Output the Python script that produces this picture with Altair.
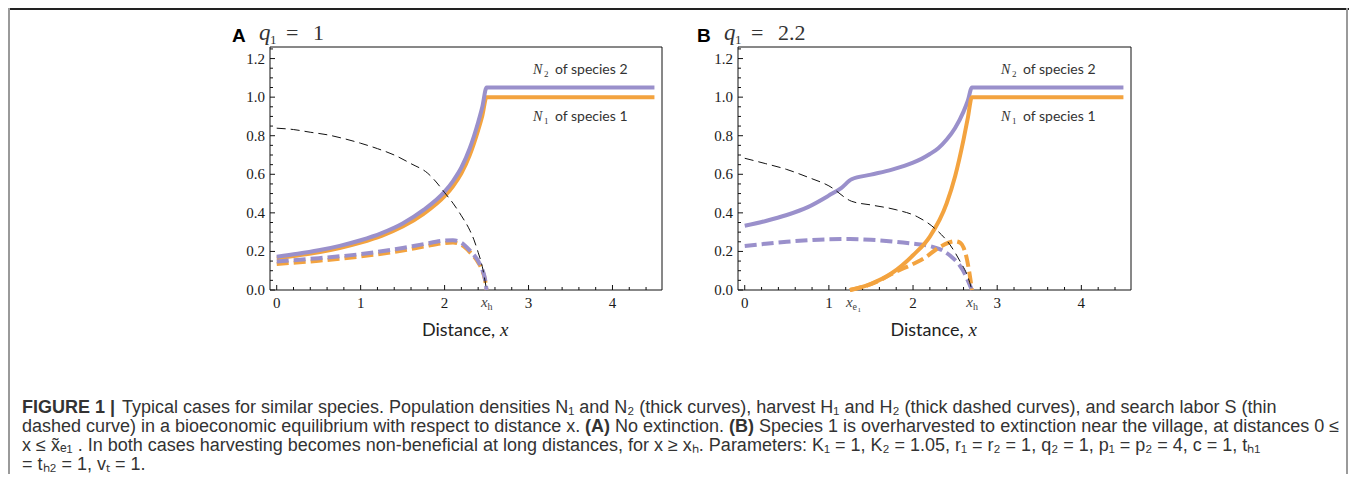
import altair as alt
import pandas as pd

# ---------------- data ----------------
# Panel A  (q1 = 1)
A_N_X = [0, 0.25, 0.5, 0.75, 1.0, 1.25, 1.5, 1.75, 2.0, 2.1, 2.2, 2.3, 2.4, 2.45, 2.5, 4.5]
A_N2_Y = [0.172, 0.1875, 0.206, 0.229, 0.258, 0.295, 0.345, 0.415, 0.51, 0.565, 0.635, 0.735, 0.87, 0.95, 1.05, 1.05]
A_N1_Y = [0.164, 0.179, 0.196, 0.218, 0.246, 0.281, 0.329, 0.395, 0.486, 0.538, 0.605, 0.70, 0.829, 0.905, 1.0, 1.0]
A_H_X = [0, 0.5, 1.0, 1.5, 1.75, 2.0, 2.1, 2.2, 2.3, 2.4, 2.45, 2.48, 2.5]
A_H2_Y = [0.148, 0.165, 0.186, 0.218, 0.238, 0.256, 0.258, 0.245, 0.205, 0.15, 0.105, 0.06, 0.0]
A_H1_Y = [0.135, 0.152, 0.174, 0.205, 0.225, 0.244, 0.246, 0.234, 0.197, 0.143, 0.1, 0.057, 0.0]
A_S_X = [0, 0.2, 0.4, 0.6, 0.8, 1.0, 1.2, 1.4, 1.6, 1.8, 1.9, 2.0, 2.1, 2.2, 2.3, 2.35, 2.4, 2.45, 2.5]
A_S_Y = [0.839, 0.832, 0.818, 0.805, 0.785, 0.761, 0.733, 0.70, 0.655, 0.605, 0.56, 0.505, 0.45, 0.385,
         0.31, 0.26, 0.195, 0.12, 0.0]
A_XH = 2.5

# Panel B  (q1 = 2.2)
B_N2_X = [0, 0.25, 0.5, 0.75, 1.0, 1.15, 1.27, 1.5, 1.75, 2.0, 2.1, 2.2, 2.3, 2.4, 2.5, 2.6, 2.65, 2.7, 4.5]
B_N2_Y = [0.333, 0.358, 0.389, 0.43, 0.49, 0.53, 0.574, 0.598, 0.624, 0.66, 0.68, 0.705, 0.735, 0.78, 0.84,
          0.925, 0.98, 1.05, 1.05]
B_N1_X = [1.25, 1.5, 1.75, 2.0, 2.2, 2.4, 2.5, 2.6, 2.65, 2.7, 4.5]
B_N1_Y = [0.0, 0.032, 0.088, 0.18, 0.277, 0.45, 0.59, 0.78, 0.89, 1.0, 1.0]
B_H2_X = [0, 0.25, 0.5, 0.75, 1.0, 1.25, 1.5, 1.75, 2.0, 2.2, 2.35, 2.45, 2.55, 2.62, 2.66, 2.7]
B_H2_Y = [0.228, 0.24, 0.25, 0.258, 0.263, 0.264, 0.26, 0.252, 0.24, 0.228, 0.205, 0.175, 0.13, 0.08, 0.04, 0.0]
B_H1_X = [1.25, 1.5, 1.8, 2.0, 2.13, 2.3, 2.42, 2.5, 2.56, 2.6, 2.64, 2.68, 2.7]
B_H1_Y = [0.0, 0.03, 0.095, 0.135, 0.164, 0.218, 0.245, 0.253, 0.245, 0.22, 0.16, 0.06, 0.0]
B_S_X = [0, 0.25, 0.5, 0.75, 1.0, 1.27, 1.5, 1.8, 2.05, 2.28, 2.44, 2.56, 2.65, 2.7]
B_S_Y = [0.683, 0.655, 0.625, 0.585, 0.54, 0.46, 0.441, 0.416, 0.38, 0.311, 0.234, 0.148, 0.07, 0.0]
B_XH = 2.7
B_XE1 = 1.27

# axes
X_MAJOR = [0, 1, 2, 3, 4]
X_MINOR = [0.2, 0.4, 0.6, 0.8, 1.2, 1.4, 1.6, 1.8, 2.2, 2.4, 2.6, 2.8, 3.2, 3.4, 3.6, 3.8, 4.2, 4.4]
Y_MAJOR = [0.0, 0.2, 0.4, 0.6, 0.8, 1.0, 1.2]
Y_MINOR = [0.05, 0.1, 0.15, 0.25, 0.3, 0.35, 0.45, 0.5, 0.55, 0.65, 0.7, 0.75, 0.85, 0.9, 0.95,
           1.05, 1.1, 1.15, 1.25]
XDOM = [-0.08, 4.59]
YDOM = [0.0, 1.26]

CAPTION = [
    [("FIGURE 1 |", "bold"), ("Typical cases for similar species. Population densities N\u2081 and N\u2082 (thick curves), "
                              "harvest H\u2081 and H\u2082 (thick dashed curves), and search labor S (thin", "normal")],
    [("dashed curve) in a bioeconomic equilibrium with respect to distance x.", "normal"), ("(A)", "bold"),
     ("No extinction.", "normal"), ("(B)", "bold"),
     ("Species 1 is overharvested to extinction near the village, at distances 0 \u2264", "normal")],
    [("x \u2264 x\u0303\u2091\u2081 . In both cases harvesting becomes non-beneficial at long distances, for x \u2265 x\u2095. "
      "Parameters: K\u2081 = 1, K\u2082 = 1.05, r\u2081 = r\u2082 = 1, q\u2082 = 1, p\u2081 = p\u2082 = 4, c = 1, t\u2095\u2081", "normal")],
    [("= t\u2095\u2082 = 1, v\u209c = 1.", "normal")],
]

# ---------------- styling / layout ----------------
PURPLE = "#9a90cb"
ORANGE = "#f3a33f"
SERIF = "Liberation Serif"
SANS = "Lato"
CAPFONT = "Liberation Sans"
W, H = 1341, 466
PX = {"A": (262, 654), "B": (730, 1123)}
TOP, BOT = 39, 282


def xs(p):
    return alt.Scale(domain=XDOM, range=list(PX[p]), nice=False, zero=False)


def ys():
    return alt.Scale(domain=YDOM, range=[BOT, TOP], nice=False, zero=False)


one = alt.Data(values=[{"k": 1}])


def txt(s, x, y, size, font, **kw):
    props = dict(text=s, fontSize=size, font=font, align="left", baseline="alphabetic", color="#1a1a1a")
    props.update(kw)
    return alt.Chart(one).mark_text(**props).encode(x=alt.value(x), y=alt.value(y))


def line(p, xv, yv, color, width, dash=None):
    df = pd.DataFrame({"x": xv, "y": yv, "o": list(range(len(xv)))})
    mk = dict(color=color, strokeWidth=width, interpolate="monotone", strokeCap="butt")
    if dash:
        mk["strokeDash"] = dash
    return alt.Chart(df).mark_line(**mk).encode(
        x=alt.X("x:Q", scale=xs(p), axis=None),
        y=alt.Y("y:Q", scale=ys(), axis=None),
        order="o:Q",
    )


def frame(p):
    df = pd.DataFrame({"x0": [XDOM[0]], "x1": [XDOM[1]], "y0": [YDOM[0]], "y1": [YDOM[1]]})
    return alt.Chart(df).mark_rect(fillOpacity=0, stroke="#111", strokeWidth=1).encode(
        x=alt.X("x0:Q", scale=xs(p), axis=None), x2="x1:Q",
        y=alt.Y("y0:Q", scale=ys(), axis=None), y2="y1:Q",
    )


def xticks(p, vals, ln):
    df = pd.DataFrame({"t": vals})
    return alt.Chart(df).mark_rule(color="#111", strokeWidth=1).encode(
        x=alt.X("t:Q", scale=xs(p), axis=None), y=alt.value(BOT), y2=alt.value(BOT - ln))


def yticks(p, vals, ln):
    df = pd.DataFrame({"t": vals})
    x0 = PX[p][0]
    return alt.Chart(df).mark_rule(color="#111", strokeWidth=1).encode(
        y=alt.Y("t:Q", scale=ys(), axis=None), x=alt.value(x0), x2=alt.value(x0 + ln))


def xlabels(p, vals):
    df = pd.DataFrame({"t": vals, "lab": [str(v) for v in vals]})
    return alt.Chart(df).mark_text(font=SERIF, fontSize=15, baseline="alphabetic", color="#1a1a1a").encode(
        x=alt.X("t:Q", scale=xs(p), axis=None), y=alt.value(300), text="lab:N")


def ylabels(p, vals):
    df = pd.DataFrame({"t": vals, "lab": ["%.1f" % v for v in vals]})
    return alt.Chart(df).mark_text(font=SERIF, fontSize=15, baseline="middle", align="right",
                                   color="#1a1a1a").encode(
        y=alt.Y("t:Q", scale=ys(), axis=None), x=alt.value(PX[p][0] - 5), text="lab:N")


def mathlabel(p, pos, main, sub, subsub=None):
    df = pd.DataFrame({"t": [pos]})
    base = alt.Chart(df)
    out = [
        base.mark_text(text=main, font=SERIF, fontStyle="italic", fontSize=15, align="right", dx=1,
                       baseline="alphabetic", color="#444").encode(
            x=alt.X("t:Q", scale=xs(p), axis=None), y=alt.value(299)),
        base.mark_text(text=sub, font=SERIF, fontSize=10, align="left", dx=1,
                       baseline="alphabetic", color="#444").encode(
            x=alt.X("t:Q", scale=xs(p), axis=None), y=alt.value(302)),
    ]
    if subsub:
        out.append(base.mark_text(text=subsub, font=SERIF, fontSize=7, align="left", dx=6,
                                  baseline="alphabetic", color="#444").encode(
            x=alt.X("t:Q", scale=xs(p), axis=None), y=alt.value(304)))
    return out


def panel_axes(p):
    return [frame(p), xticks(p, X_MAJOR, 5), xticks(p, X_MINOR, 3), yticks(p, Y_MAJOR, 5),
            yticks(p, Y_MINOR, 3), xlabels(p, X_MAJOR), ylabels(p, Y_MAJOR)]


def panel_texts(p, letter, qval):
    x0, x1 = PX[p]
    lx = x0 - 38 if p == "A" else x0 - 41
    items = [
        txt(letter, lx, 34, 19, "Liberation Sans", fontWeight="bold", color="#000"),
        txt("q", lx + 27, 32, 23, SERIF, fontStyle="italic", color="#333"),
        txt("1", lx + 38, 36, 13, SERIF, color="#333"),
        txt("=", lx + 54, 32, 22, SERIF, color="#333"),
        txt(qval, lx + 81, 32, 22, SERIF, color="#333"),
    ]
    cx = (x0 + x1) / 2
    items += [
        txt("Distance,", cx - 44, 328, 18, SANS, color="#222"),
        txt("x", cx + 34, 328, 19, SERIF, fontStyle="italic", color="#222"),
    ]
    nx = x0 + 263
    for row, sp, yb in (("2", "of species 2", 66), ("1", "of species 1", 113)):
        items += [
            txt("N", nx, yb, 14, SERIF, fontStyle="italic", color="#333"),
            txt(row, nx + 11, yb + 3, 9, SERIF, color="#333"),
            txt(sp, nx + 22, yb, 14, SANS, color="#333"),
        ]
    return items


layers = []
# outer figure frame
layers += [
    alt.Chart(one).mark_rule(color="#222", strokeWidth=2).encode(
        x=alt.value(0), x2=alt.value(W), y=alt.value(1)),
    alt.Chart(one).mark_rule(color="#9a9a9a", strokeWidth=2).encode(
        x=alt.value(1), y=alt.value(0), y2=alt.value(H)),
    alt.Chart(one).mark_rule(color="#9a9a9a", strokeWidth=2).encode(
        x=alt.value(W - 2), y=alt.value(0), y2=alt.value(H)),
]

# panel A
layers += panel_axes("A")
layers += [
    line("A", A_N_X, A_N1_Y, ORANGE, 4),
    line("A", A_H_X, A_H1_Y, ORANGE, 4, [12, 5]),
    line("A", A_N_X, A_N2_Y, PURPLE, 4),
    line("A", A_H_X, A_H2_Y, PURPLE, 4, [12, 5]),
    line("A", A_S_X, A_S_Y, "#111", 1, [9, 5]),
]
layers += mathlabel("A", A_XH, "x", "h")
layers += panel_texts("A", "A", "1")

# panel B
layers += panel_axes("B")
layers += [
    line("B", B_N2_X, B_N2_Y, PURPLE, 4),
    line("B", B_H2_X, B_H2_Y, PURPLE, 4, [12, 5]),
    line("B", B_N1_X, B_N1_Y, ORANGE, 4),
    line("B", B_H1_X, B_H1_Y, ORANGE, 4, [12, 5]),
    line("B", B_S_X, B_S_Y, "#111", 1, [9, 5]),
]
layers += mathlabel("B", B_XH, "x", "h")
layers += mathlabel("B", B_XE1, "x", "e", "1")
layers += panel_texts("B", "B", "2.2")

# caption
CAP_X = {0: [14, 114], 1: [14, 577, 607, 721, 751], 2: [14], 3: [14]}
CAP_Y = [405, 424, 443, 462]
for i, segs in enumerate(CAPTION):
    for j, (s, wgt) in enumerate(segs):
        layers.append(txt(s, CAP_X[i][j], CAP_Y[i], 18, CAPFONT, fontWeight=wgt, color="#333"))

chart = alt.layer(*layers).resolve_scale(x="independent", y="independent").properties(
    width=W, height=H, padding=0, autosize=alt.AutoSizeParams(type="none")
).configure_view(stroke="transparent")

chart.save("out.html", embed_options={"renderer": "svg", "actions": False})
